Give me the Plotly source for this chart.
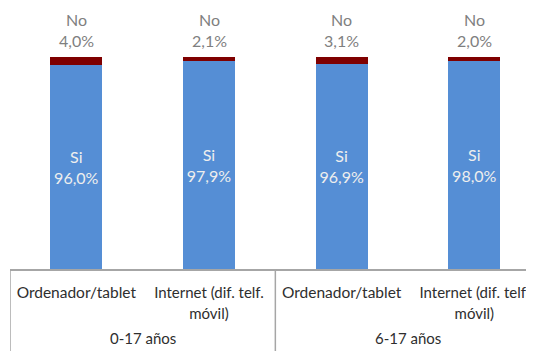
import plotly.graph_objects as go

group_labels = ["0-17 años", "6-17 años"]
group_of_bar = [0, 0, 1, 1]
items = ["Ordenador/tablet", "Internet (dif. telf.<br>móvil)", "Ordenador/tablet", "Internet (dif. telf.<br>móvil)"]
si_values = [96.0, 97.9, 96.9, 98.0]
no_values = [4.0, 2.1, 3.1, 2.0]

def fmt(v):
    return f"{v:.1f}".replace(".", ",") + "%"

def small(label, size=15):
    # long wrapped labels are rendered slightly smaller so they fit like the reference
    if "<br>" not in label:
        return label
    return "<br>".join(f'<span style="font-size:{size}px">{part}</span>' for part in label.split("<br>"))

font_family = "Lato, 'Open Sans', sans-serif"
positions = list(range(len(items)))
tick_text = [small(t) for t in items]

fig = go.Figure()
fig.add_trace(go.Bar(
    x=positions, y=si_values, name="Si",
    marker=dict(color="#558ED5", line=dict(width=0)),
    text=["Si<br>" + fmt(v) for v in si_values],
    textposition="inside", insidetextanchor="middle",
    textfont=dict(color="#EEEEEE", size=16, family=font_family),
    textangle=0,
))
fig.add_trace(go.Bar(
    x=positions, y=no_values, name="No",
    marker=dict(color="#7F0000", line=dict(width=0)),
))

# "No" labels above each stack
for p, s, n in zip(positions, si_values, no_values):
    fig.add_annotation(
        x=p, y=s + n, xref="x", yref="y",
        text="No<br>" + fmt(n), showarrow=False,
        yanchor="bottom", yshift=5,
        font=dict(color="#7F7F7F", size=16, family=font_family),
    )

# Group labels and dividers below the axis
plot_h = 261.0
for gi, g in enumerate(group_labels):
    members = [p for p, gb in zip(positions, group_of_bar) if gb == gi]
    xc = sum(members) / len(members)
    fig.add_annotation(
        x=xc, y=(261 - 330) / plot_h, xref="x", yref="paper",
        text=g, showarrow=False, yanchor="middle",
        font=dict(color="#2E2E2E", size=15, family=font_family),
    )
    left_edge = min(members) - 0.5
    fig.add_shape(
        type="line", xref="x", yref="paper",
        x0=left_edge, x1=left_edge, y0=0, y1=-(351 - 261) / plot_h,
        line=dict(color="#A6A6A6", width=1.5),
    )

fig.update_layout(
    barmode="stack",
    width=534, height=351,
    margin=dict(l=2, r=0, t=0, b=90, autoexpand=False),
    paper_bgcolor="white", plot_bgcolor="white",
    showlegend=False,
    bargap=0.61,
    font=dict(family=font_family, size=16, color="#2E2E2E"),
)
fig.update_xaxes(
    range=[-0.5, 3.51],
    tickvals=positions, ticktext=tick_text,
    showline=True, linecolor="#A6A6A6", linewidth=1.5,
    ticks="", showgrid=False, zeroline=False,
    tickfont=dict(size=15.5, color="#2E2E2E", family=font_family),
    ticklabelstandoff=9,
    automargin=False,
)
fig.update_yaxes(visible=False, range=[0, 123.1], automargin=False)

fig.write_html("out.html")
